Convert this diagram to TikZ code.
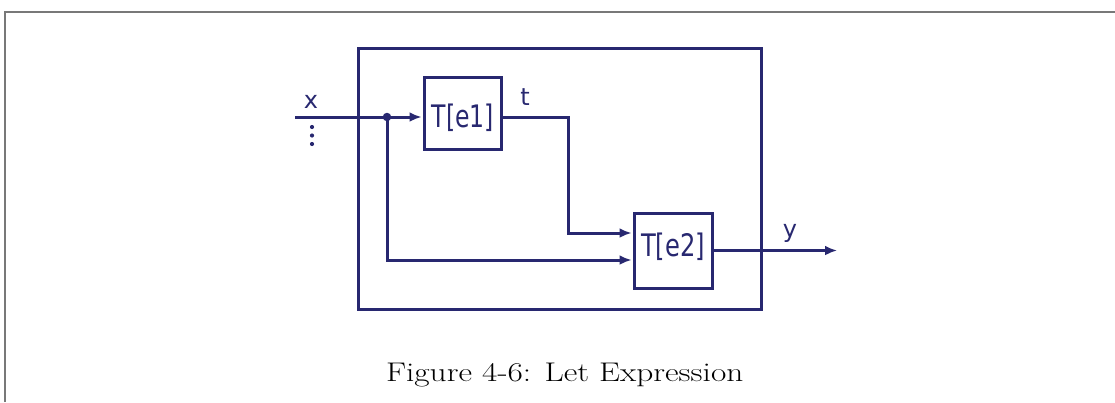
\documentclass[tikz,border=0pt]{standalone}
\usepackage{fontspec}
\usepackage{graphicx}
\newfontfamily\labfont{DejaVu Sans}
\usetikzlibrary{arrows.meta}
\definecolor{navy}{RGB}{40,40,112}
\definecolor{framegray}{RGB}{120,120,120}
\begin{document}
\begin{tikzpicture}[x=1pt,y=-1pt,
  wire/.style={draw=navy, line width=3pt},
  arr/.style={wire, -{Latex[length=12pt,width=10pt]}},
  blk/.style={draw=navy, line width=3pt, inner sep=0pt},
  btext/.style={font=\labfont\fontsize{31}{35}\selectfont, text=navy, inner sep=0pt},
  lab/.style={font=\labfont\fontsize{24}{28}\selectfont, text=navy, inner sep=0pt},
  dotn/.style={circle, fill=navy, inner sep=0pt}]
\useasboundingbox (0,0) rectangle (1115,402);
\draw[framegray, line width=1.6pt] (5,402) -- (5,12) -- (1115,12);
\node[blk, minimum width=403pt, minimum height=261pt] (outer) at (559.5,178.5) {};
\node[blk, minimum width=77pt, minimum height=72pt] (e1) at (462.5,113.8) {};
\node[blk, minimum width=78pt, minimum height=75pt] (e2) at (673,250.5) {};
\node[btext, anchor=base] (e1t) at (463,127.7) {\scalebox{0.76}[1]{T[e1]}};
\node[btext, anchor=base] (e2t) at (673,256) {\scalebox{0.78}[1]{T[e2]}};
\coordinate (xin) at (295,117);
\coordinate (split) at (387,117);
\coordinate (tc) at (568,117);
\coordinate (ta) at (568,233);
\coordinate (sb) at (387,260);
\coordinate (yout) at (837,250.5);
\draw[wire] (xin) -- (split);
\draw[arr] (split) -- ([xshift=-1pt]split -| e1.west);
\draw[arr] (e1.east |- split) -- (tc) -- (ta) -- ([xshift=-1pt]ta -| e2.west);
\draw[arr] (split) -- (sb) -- ([xshift=-1pt]sb -| e2.west);
\draw[arr] (e2.east) -- (yout);
\node[dotn, minimum size=8.5pt] (dot) at (split) {};
\node[dotn, minimum size=4.2pt] (v1) at (312,127) {};
\node[dotn, minimum size=4.2pt] (v2) at (312,135.5) {};
\node[dotn, minimum size=4.2pt] (v3) at (312,144) {};
\node[lab, anchor=base] (xl) at (311,108) {x};
\node[lab, anchor=base] (tl) at (525,105) {t};
\node[lab, anchor=base] (yl) at (790,237) {y};
\node[anchor=base, inner sep=0pt] (cap) at (564.7,381.7) {\scalebox{1.235}[1]{\fontsize{27}{32}\selectfont Figure 4-6: Let Expression}};
\end{tikzpicture}
\end{document}
